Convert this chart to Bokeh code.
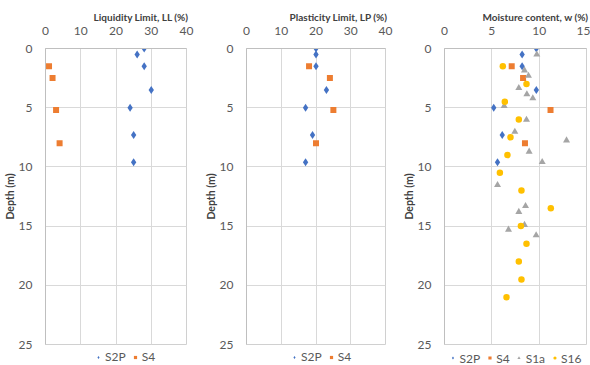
from bokeh.plotting import figure
from bokeh.layouts import row, column
from bokeh.models import Range1d, Legend, LegendItem, FixedTicker, Title
from bokeh.embed import file_html
from bokeh.resources import INLINE

# Liquidity limit (%) vs depth (m)
ll_s2p_depth = [0.0, 0.5, 1.5, 3.5, 5.0, 7.3, 9.6]
ll_s2p = [28, 26, 28, 30, 24, 25, 25]
ll_s4_depth = [1.5, 2.5, 5.2, 8.0]
ll_s4 = [1, 2, 3, 4]

# Plasticity limit (%) vs depth (m)
lp_s2p_depth = [0.0, 0.5, 1.5, 3.5, 5.0, 7.3, 9.6]
lp_s2p = [20, 20, 20, 23, 17, 19, 17]
lp_s4_depth = [1.5, 2.5, 5.2, 8.0]
lp_s4 = [18, 24, 25, 20]

# Moisture content (%) vs depth (m)
w_s2p_depth = [0.0, 0.5, 1.5, 3.5, 5.0, 7.3, 9.6]
w_s2p = [9.7, 8.2, 8.2, 9.7, 5.2, 6.1, 5.6]
w_s4_depth = [1.5, 2.5, 5.2, 8.0]
w_s4 = [7.1, 8.3, 11.2, 8.5]
w_s1a_depth = [0.5, 1.85, 2.3, 3.33, 3.87, 4.2, 4.85, 6.02, 7.03, 7.76, 8.71,
               9.58, 11.53, 13.3, 13.8, 14.9, 15.3, 15.77]
w_s1a = [9.75, 8.45, 8.87, 7.85, 8.7, 9.33, 6.3, 8.66, 7.43, 12.89, 8.94,
         10.32, 5.6, 8.56, 7.85, 8.45, 6.76, 9.68]
w_s16_depth = [1.5, 3.0, 4.5, 6.0, 7.5, 9.0, 10.5, 12.0, 13.5, 15.0, 16.5,
               18.0, 19.5, 21.0]
w_s16 = [6.16, 8.66, 6.37, 7.85, 6.97, 6.65, 5.85, 8.13, 11.23, 8.07, 8.66,
         7.85, 8.13, 6.55]

ll_ticks = [0, 10, 20, 30, 40]
w_ticks = [0, 5, 10, 15]
depth_ticks = [0, 5, 10, 15, 20, 25]

FONT = "Lato"
TICK_COLOR = "#595959"
TITLE_COLOR = "#404040"
GRID = "#d9d9d9"

STYLE = {
    "S2P": dict(marker="diamond", color="#4472C4", size=8),
    "S4": dict(marker="square", color="#ED7D31", size=6),
    "S1a": dict(marker="triangle", color="#A5A5A5", size=7),
    "S16": dict(marker="circle", color="#FFC000", size=6.5),
}

MAIN_H = 350
LEGEND_H = 15


def make_panel(title, xmax, xticks, width, left, right, legend_x, series):
    p = figure(width=width, height=MAIN_H,
               x_range=Range1d(0, xmax), y_range=Range1d(25, 0),
               x_axis_location="above",
               output_backend="svg", toolbar_location=None,
               min_border_left=left, min_border_right=right,
               min_border_top=48, min_border_bottom=6)
    p.background_fill_color = "white"
    p.border_fill_color = "white"
    p.outline_line_color = "#d0d0d0"

    # panel heading, right-aligned above the top axis
    p.add_layout(Title(text=title, align="right", text_font=FONT,
                       text_font_size="10px", text_font_style="bold",
                       text_color=TITLE_COLOR, standoff=1, offset=-2), "above")

    p.xaxis.ticker = FixedTicker(ticks=xticks)
    p.yaxis.ticker = FixedTicker(ticks=depth_ticks)
    p.yaxis.axis_label = "Depth (m)"
    for ax in (p.xaxis[0], p.yaxis[0]):
        ax.major_tick_line_color = None
        ax.minor_tick_line_color = None
        ax.axis_line_color = "#bfbfbf"
        ax.major_label_text_font = FONT
        ax.major_label_text_font_size = "12px"
        ax.major_label_text_color = TICK_COLOR
        ax.axis_label_text_font = FONT
        ax.axis_label_text_font_size = "10.5px"
        ax.axis_label_text_font_style = "bold"
        ax.axis_label_text_color = TITLE_COLOR
    p.xaxis.major_label_standoff = 8
    p.yaxis.major_label_standoff = 7
    p.yaxis.axis_label_standoff = 0

    p.xgrid.ticker = FixedTicker(ticks=xticks)
    p.ygrid.ticker = FixedTicker(ticks=depth_ticks)
    p.xgrid.grid_line_color = GRID
    p.ygrid.grid_line_color = GRID

    # legend strip under the panel; its key renderers sit outside its ranges
    lg = figure(width=width, height=LEGEND_H, x_range=Range1d(0, 1),
                y_range=Range1d(100, 101), output_backend="svg",
                toolbar_location=None, min_border=0,
                min_border_left=left, min_border_right=right)
    lg.axis.visible = False
    lg.grid.visible = False
    lg.outline_line_color = None
    lg.border_fill_color = "white"
    lg.background_fill_color = "white"

    items = []
    for name, xs, ys in series:
        st = STYLE[name]
        p.scatter(xs, ys, marker=st["marker"], size=st["size"],
                  fill_color=st["color"], line_color=None)
        key = lg.scatter(xs[:1], ys[:1], marker=st["marker"],
                         size=st["size"] - 1, fill_color=st["color"],
                         line_color=None)
        items.append(LegendItem(label=name, renderers=[key]))

    location = "center" if legend_x is None else (legend_x, 1)
    legend = Legend(items=items, orientation="horizontal", location=location,
                    label_text_font=FONT, label_text_font_size="12px",
                    label_text_color=TICK_COLOR, border_line_color=None,
                    background_fill_alpha=0, padding=0, margin=0,
                    spacing=5, glyph_width=8, glyph_height=12,
                    label_standoff=3, label_height=13, label_width=13)
    lg.add_layout(legend, "center")
    return column(p, lg, spacing=0)


c1 = make_panel("Liquidity Limit, LL (%)", 40, ll_ticks, 200, 44, 14, 49,
                [("S2P", ll_s2p, ll_s2p_depth), ("S4", ll_s4, ll_s4_depth)])
c2 = make_panel("Plasticity Limit, LP (%)", 40, ll_ticks, 195, 46, 10, 44,
                [("S2P", lp_s2p, lp_s2p_depth), ("S4", lp_s4, lp_s4_depth)])
c3 = make_panel("Moisture content, w (%)", 15, w_ticks, 195, 49, 4, None,
                [("S2P", w_s2p, w_s2p_depth), ("S4", w_s4, w_s4_depth),
                 ("S1a", w_s1a, w_s1a_depth), ("S16", w_s16, w_s16_depth)])

layout = row(c1, c2, c3, spacing=0)
open("out.html", "w").write(file_html(layout, INLINE))
